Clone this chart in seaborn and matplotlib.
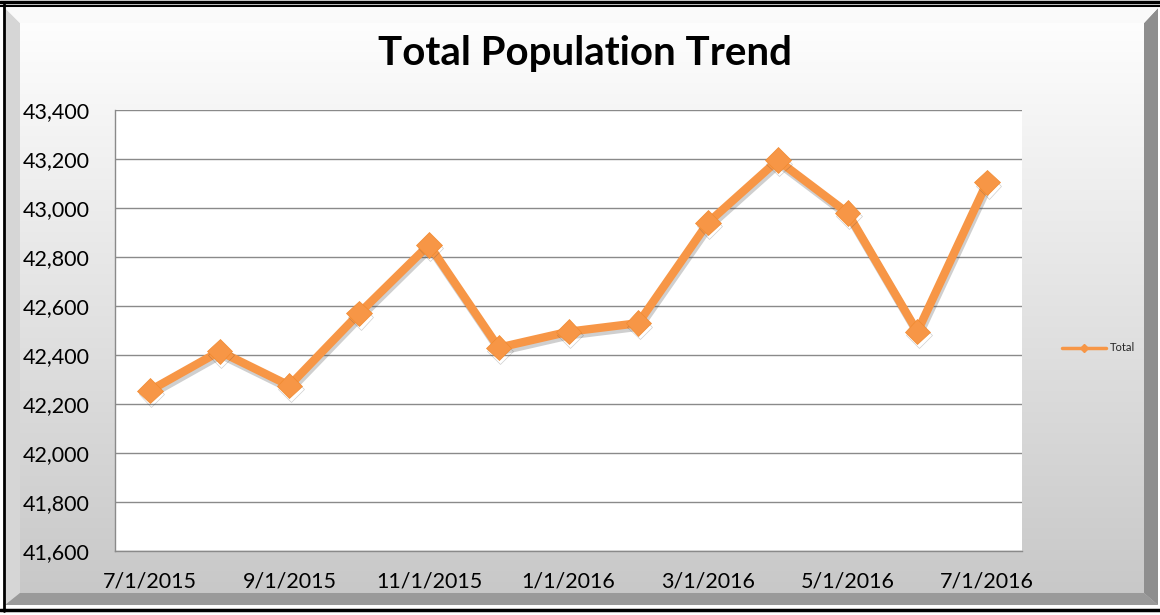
import numpy as np
import pandas as pd
import matplotlib
matplotlib.use("Agg")
import matplotlib.pyplot as plt
import matplotlib.patheffects as pe
from matplotlib.patches import Polygon
from matplotlib.lines import Line2D
import seaborn as sns

# ---- data ----
dates = ["7/1/2015", "8/1/2015", "9/1/2015", "10/1/2015", "11/1/2015", "12/1/2015",
         "1/1/2016", "2/1/2016", "3/1/2016", "4/1/2016", "5/1/2016", "6/1/2016", "7/1/2016"]
total = [42255, 42415, 42275, 42570, 42850, 42430, 42495, 42530, 42940, 43195, 42980, 42495, 43105]
y_ticks = [41600, 41800, 42000, 42200, 42400, 42600, 42800, 43000, 43200, 43400]
x_tick_labels = ["7/1/2015", "9/1/2015", "11/1/2015", "1/1/2016", "3/1/2016", "5/1/2016", "7/1/2016"]

sns.set_theme(style="white")
plt.rcParams["font.family"] = ["Lato", "DejaVu Sans"]

W, H = 1160, 615
fig = plt.figure(figsize=(W / 100, H / 100), dpi=100)

# ---- background with gradient and bevel ----
bg = fig.add_axes([0, 0, 1, 1])
bg.set_xlim(0, W)
bg.set_ylim(H, 0)
bg.axis("off")
grad = np.linspace(1.0, 0.78, 256).reshape(-1, 1)
bg.imshow(np.dstack([grad, grad, grad]), extent=[5, 1158, 605, 8], aspect="auto", zorder=0)
bg.add_patch(Polygon([[5, 8], [20, 23], [20, 593], [5, 605]], closed=True,
                     facecolor="#d6d6d6", edgecolor="none", zorder=1))
bg.add_patch(Polygon([[1158, 8], [1144, 23], [1144, 593], [1158, 605]], closed=True,
                     facecolor="#8e8e8e", edgecolor="none", zorder=1))
bg.add_patch(Polygon([[5, 605], [20, 593], [1144, 593], [1158, 605]], closed=True,
                     facecolor="#9a9a9a", edgecolor="none", zorder=1))
bg.add_patch(Polygon([[5, 8], [20, 23], [1144, 23], [1158, 8]], closed=True,
                     facecolor="#fafafa", edgecolor="none", zorder=1))
bg.plot([0, W], [2, 2], color="black", lw=2.5, zorder=2)
bg.plot([0, W], [6, 6], color="black", lw=1.5, zorder=2)
bg.plot([4, 4], [4, 611], color="black", lw=2, zorder=2)
bg.plot([0, W], [610, 610], color="black", lw=2.5, zorder=2)

# ---- main axes ----
ax = fig.add_axes([115 / W, 1 - 551 / H, 907 / W, 441 / H])
ax.set_facecolor("white")
df = pd.DataFrame({"idx": np.arange(len(dates)), "Total": total, "date": dates})

line_color = "#F79646"
sns.lineplot(data=df, x="idx", y="Total", ax=ax, color=line_color, lw=6,
             marker="D", markersize=13, markeredgecolor="#F08A30", markeredgewidth=0.5,
             label="Total", legend=False, zorder=3,
             path_effects=[pe.SimpleLineShadow(offset=(1, -2.5), shadow_color="#404040", alpha=0.25),
                           pe.Normal()])

ax.set_xlim(-0.5, len(dates) - 0.5)
ax.set_ylim(y_ticks[0], y_ticks[-1])
ax.set_yticks(y_ticks)
ax.set_yticklabels([f"{v:,}" for v in y_ticks])
ax.set_xticks([dates.index(d) for d in x_tick_labels])
ax.set_xticklabels(x_tick_labels)
ax.tick_params(axis="both", length=0, labelsize=15.5, colors="black")
ax.tick_params(axis="y", pad=18)
ax.tick_params(axis="x", pad=15)
ax.set_xlabel("")
ax.set_ylabel("")
ax.yaxis.grid(True, color="#8a8a8a", lw=1.0)
ax.xaxis.grid(False)
ax.set_axisbelow(True)
for s in ["top", "right"]:
    ax.spines[s].set_visible(False)
for s in ["left", "bottom"]:
    ax.spines[s].set_color("#8a8a8a")
    ax.spines[s].set_linewidth(1.0)

# ---- title ----
fig.text(585 / W, 1 - 53 / H, "Total Population Trend", ha="center", va="center",
         fontsize=29, fontweight="bold", color="black")

# ---- legend ----
handle = Line2D([], [], color=line_color, lw=2.5, marker="D", markersize=4)
fig.legend([handle], ["Total"], loc="center left", bbox_to_anchor=(1052 / W, 1 - 348 / H),
           frameon=False, fontsize=8, handlelength=4, handletextpad=0.3)

fig.savefig("out.png", dpi=100)
